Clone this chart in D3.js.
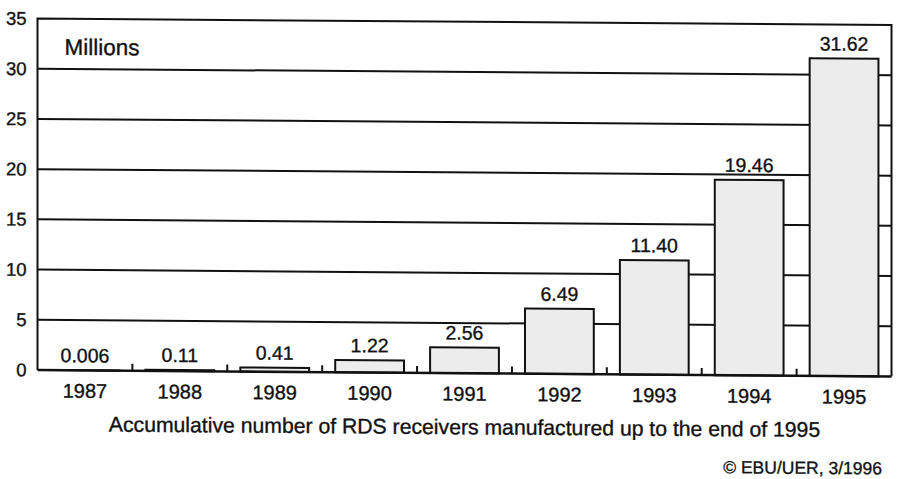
<!DOCTYPE html>
<html>
<head>
<meta charset="utf-8">
<script src="https://cdn.jsdelivr.net/npm/d3@7/dist/d3.min.js"></script>
<style>
  html, body { margin: 0; padding: 0; background: #fff; }
  svg { display: block; }
  text { font-family: "Liberation Sans", Arial, sans-serif; fill: #111; stroke: #111; stroke-width: 0.35px; }
</style>
</head>
<body>
<svg id="chart" width="898" height="479"></svg>
<script>
// RDS receivers manufactured, cumulative, in millions
const years = ["1987", "1988", "1989", "1990", "1991", "1992", "1993", "1994", "1995"];
const receivers = [0.006, 0.11, 0.41, 1.22, 2.56, 6.49, 11.40, 19.46, 31.62];
const valueLabels = ["0.006", "0.11", "0.41", "1.22", "2.56", "6.49", "11.40", "19.46", "31.62"];
const yTicks = [0, 5, 10, 15, 20, 25, 30, 35];
const unitLabel = "Millions";
const xTitle = "Accumulative number of RDS receivers manufactured up to the end of 1995";
const credit = "© EBU/UER, 3/1996";

const margin = { left: 37.5, right: 6.5, top: 18.5, bottom: 109 };
const W = 898, H = 479;
const plotW = W - margin.left - margin.right;
const plotH = H - margin.top - margin.bottom;

const svg = d3.select("#chart");

// the whole figure leans very slightly, as on the printed page
const root = svg.append("g")
  .attr("transform", `translate(${margin.left},0) skewY(0.436) translate(${-margin.left},0)`);

const g = root.append("g").attr("transform", `translate(${margin.left},${margin.top})`);

const x = d3.scaleBand().domain(years).range([0, plotW]).paddingInner(0.275).paddingOuter(0.1375);
const y = d3.scaleLinear().domain([0, 35]).range([plotH, 0]);

// horizontal gridlines behind the bars
g.append("g").selectAll("line")
  .data(yTicks.filter(v => v > 0 && v < 35))
  .join("line")
  .attr("x1", 0).attr("x2", plotW)
  .attr("y1", d => y(d)).attr("y2", d => y(d))
  .attr("stroke", "#111").attr("stroke-width", 2);

// bars
g.append("g").selectAll("rect")
  .data(receivers)
  .join("rect")
  .attr("x", (d, i) => x(years[i]))
  .attr("width", x.bandwidth())
  .attr("y", d => y(d))
  .attr("height", d => y(0) - y(d))
  .attr("fill", "#ececec")
  .attr("stroke", "#111")
  .attr("stroke-width", 2);

// value labels above bars
g.append("g").selectAll("text")
  .data(receivers)
  .join("text")
  .attr("x", (d, i) => x(years[i]) + x.bandwidth() / 2)
  .attr("y", d => y(d) - 8)
  .attr("text-anchor", "middle")
  .attr("font-size", 19.5)
  .text((d, i) => valueLabels[i]);

// frame: left, top, right
g.append("path")
  .attr("d", `M0,${plotH} V0 H${plotW} V${plotH}`)
  .attr("fill", "none").attr("stroke", "#111").attr("stroke-width", 2);

// x axis baseline with small ticks between categories
const step = x.step();
const xAxis = d3.axisBottom(x).tickSize(0).tickPadding(0);
const xa = g.append("g").attr("transform", `translate(0,${plotH})`).call(xAxis);
xa.select(".domain").attr("stroke", "#111").attr("stroke-width", 2.5).attr("d", `M0,0H${plotW}`);
xa.selectAll(".tick text")
  .attr("y", 27.5).attr("dy", 0)
  .attr("font-size", 20)
  .attr("font-family", "Liberation Sans, Arial, sans-serif")
  .attr("fill", "#111");

g.append("g").selectAll("line")
  .data(years.slice(1))
  .join("line")
  .attr("x1", d => x(d) - (step - x.bandwidth()) / 2)
  .attr("x2", d => x(d) - (step - x.bandwidth()) / 2)
  .attr("y1", plotH).attr("y2", plotH - 7)
  .attr("stroke", "#111").attr("stroke-width", 2);

// y axis labels
const yAxis = d3.axisLeft(y).tickValues(yTicks).tickSize(0).tickPadding(11);
const ya = g.append("g").call(yAxis);
ya.select(".domain").remove();
ya.selectAll(".tick text")
  .attr("font-size", 18.5)
  .attr("font-family", "Liberation Sans, Arial, sans-serif")
  .attr("fill", "#111");

// unit label inside the plot
g.append("text")
  .attr("x", 27).attr("y", 36)
  .attr("font-size", 22.5)
  .text(unitLabel);

// axis title
g.append("text")
  .attr("x", plotW / 2).attr("y", plotH + 61)
  .attr("text-anchor", "middle")
  .attr("font-size", 21.2)
  .text(xTitle);

// credit line
root.append("text")
  .attr("x", 882).attr("y", 468)
  .attr("text-anchor", "end")
  .attr("font-size", 17.5)
  .text(credit);
</script>
</body>
</html>
